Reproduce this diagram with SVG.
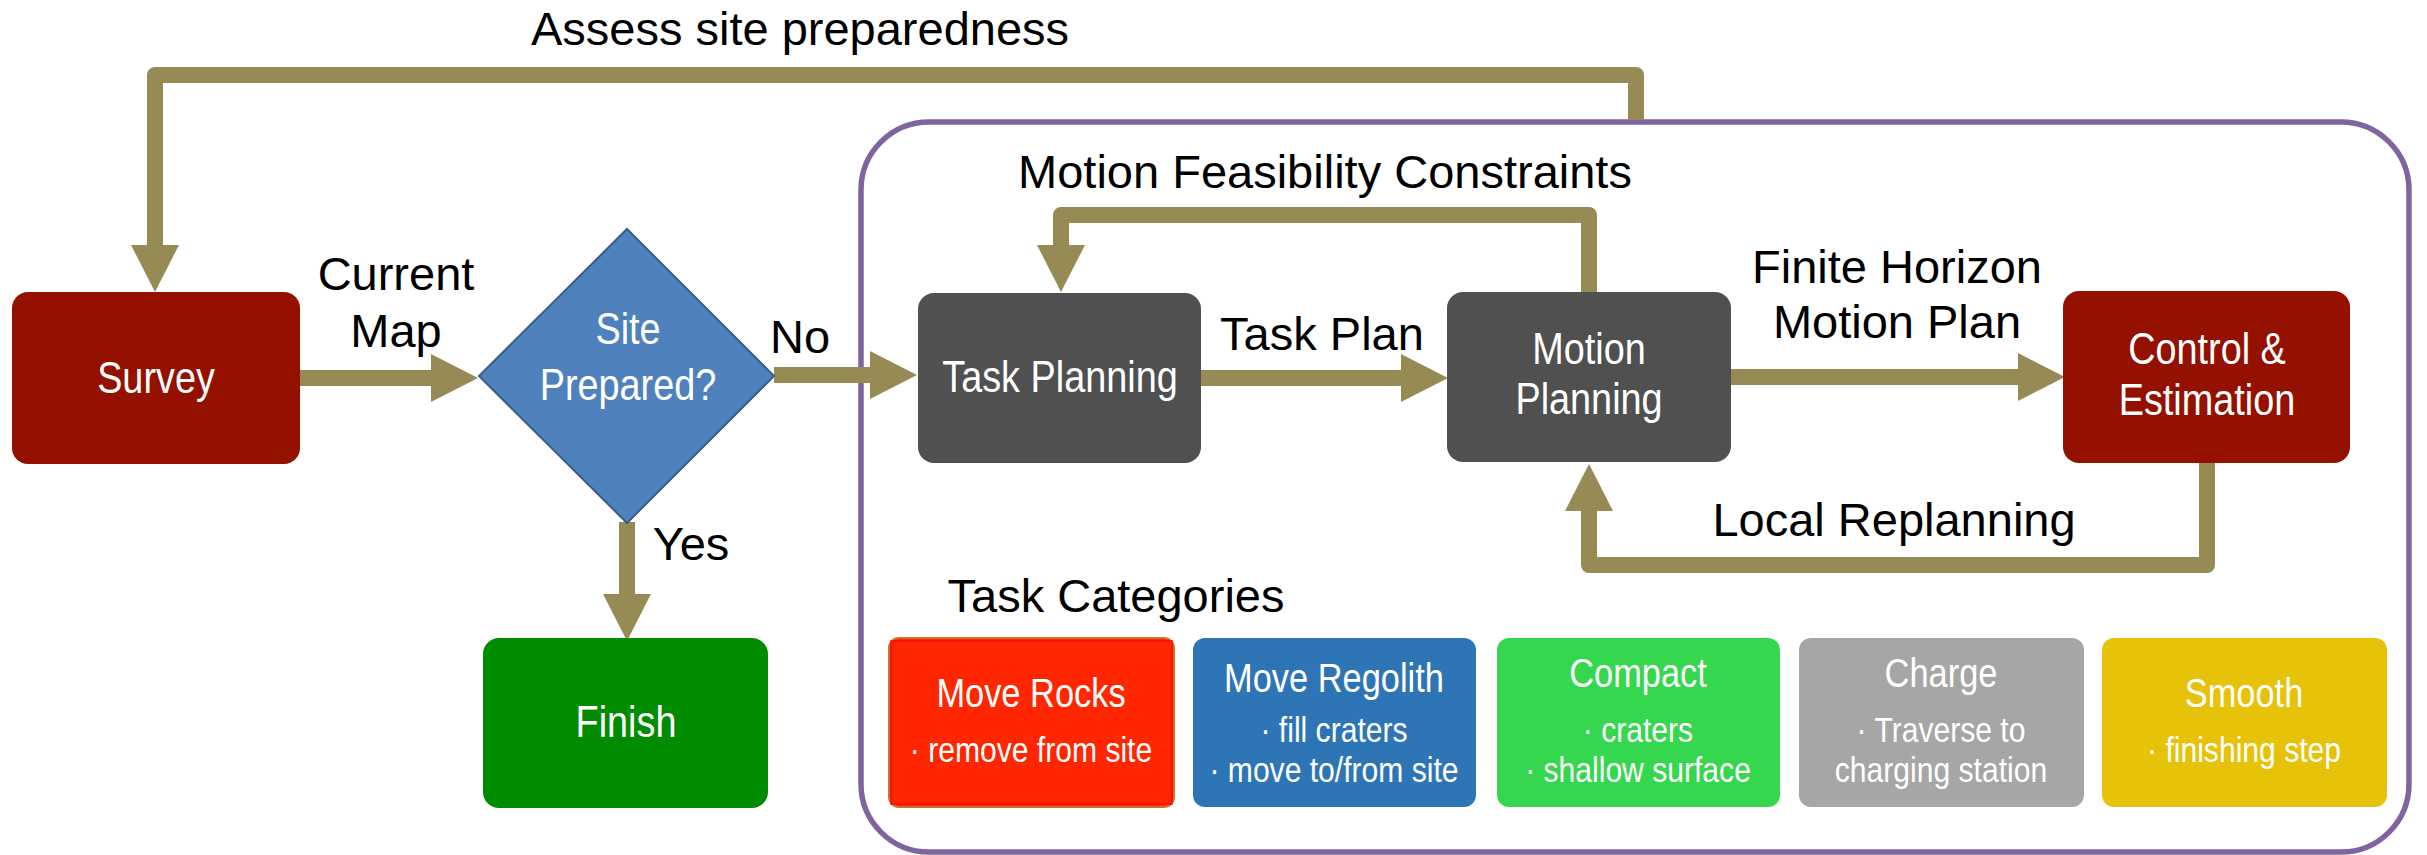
<svg xmlns="http://www.w3.org/2000/svg" width="2427" height="855" viewBox="0 0 2427 855">
  <style>
    .lbl { font-family: "Liberation Sans", Arial, sans-serif; font-size: 47px; fill: #000; text-anchor: middle; }
    .nt { font-family: "Liberation Sans", Arial, sans-serif; font-size: 44px; fill: #fff; text-anchor: middle; }
    .ct { font-family: "Liberation Sans", Arial, sans-serif; font-size: 40px; fill: #fff; text-anchor: middle; }
    .cs { font-family: "Liberation Sans", Arial, sans-serif; font-size: 35px; fill: #fff; text-anchor: middle; }
    .conn { fill: none; stroke: #968b55; stroke-width: 16; stroke-linejoin: round; marker-end: url(#head); }
    .red { fill: #941100; }
    .gray { fill: #505050; }
  </style>
  <defs>
    <marker id="head" markerUnits="userSpaceOnUse" markerWidth="48" markerHeight="48" viewBox="0 0 48 48" refX="0" refY="24" orient="auto">
      <path d="M0,0 L47,24 L0,48 Z" fill="#968b55"/>
    </marker>
  </defs>

  <rect width="2427" height="855" fill="#fff"/>

  <!-- planning container -->
  <g id="planner-frame">
    <rect x="861" y="122" width="1548" height="730" rx="68" ry="68" fill="none" stroke="#8064a2" stroke-width="5.5"/>
  </g>

  <!-- connectors -->
  <g id="connectors">
    <path class="conn" d="M1636,120 V75 H155 V245"/>
    <path class="conn" d="M300,378 H431"/>
    <path class="conn" d="M774,375 H870"/>
    <path class="conn" d="M1201,378 H1401"/>
    <path class="conn" d="M1731,377 H2018"/>
    <path class="conn" d="M1589,292 V215 H1061 V245"/>
    <path class="conn" d="M2207,463 V565 H1589 V511"/>
    <path class="conn" d="M627,522 V594"/>
  </g>

  <!-- connector labels -->
  <g id="labels">
    <text class="lbl" x="800" y="45">Assess site preparedness</text>
    <text class="lbl" x="396" y="290">Current</text>
    <text class="lbl" x="396" y="347">Map</text>
    <text class="lbl" x="800" y="353">No</text>
    <text class="lbl" x="691" y="560">Yes</text>
    <text class="lbl" x="1322" y="350">Task Plan</text>
    <text class="lbl" x="1325" y="188">Motion Feasibility Constraints</text>
    <text class="lbl" x="1897" y="283">Finite Horizon</text>
    <text class="lbl" x="1897" y="338">Motion Plan</text>
    <text class="lbl" x="1894" y="536">Local Replanning</text>
    <text class="lbl" x="1116" y="612">Task Categories</text>
  </g>

  <g id="survey">
    <rect class="red" x="12" y="292" width="288" height="172" rx="16"/>
    <text class="nt" transform="translate(156,393) scale(0.86,1)">Survey</text>
  </g>

  <g id="site-prepared">
    <polygon points="627,229 774,376 627,523 479,376" fill="#4f81bd" stroke="#385d8a" stroke-width="2"/>
    <text class="nt" transform="translate(628,344) scale(0.86,1)">Site</text>
    <text class="nt" transform="translate(628,400) scale(0.86,1)">Prepared?</text>
  </g>

  <g id="finish">
    <rect x="483" y="638" width="285" height="170" rx="16" fill="#008c00"/>
    <text class="nt" transform="translate(626,737) scale(0.86,1)">Finish</text>
  </g>

  <g id="task-planning">
    <rect class="gray" x="918" y="293" width="283" height="170" rx="16"/>
    <text class="nt" transform="translate(1060,392) scale(0.86,1)">Task Planning</text>
  </g>

  <g id="motion-planning">
    <rect class="gray" x="1447" y="292" width="284" height="170" rx="16"/>
    <text class="nt" transform="translate(1589,364) scale(0.86,1)">Motion</text>
    <text class="nt" transform="translate(1589,414) scale(0.86,1)">Planning</text>
  </g>

  <g id="control-estimation">
    <rect class="red" x="2063" y="291" width="287" height="172" rx="16"/>
    <text class="nt" transform="translate(2207,364) scale(0.86,1)">Control &amp;</text>
    <text class="nt" transform="translate(2207,415) scale(0.86,1)">Estimation</text>
  </g>

  <g id="move-rocks">
    <rect x="889" y="638" width="285" height="169" rx="10" fill="#ff2600" stroke="#c8732e" stroke-width="2"/>
    <rect x="891" y="641" width="281" height="163" fill="#ff2600" stroke="#ff0a00" stroke-width="1.5"/>
    <text class="ct" transform="translate(1031,707) scale(0.86,1)">Move Rocks</text>
    <text class="cs" transform="translate(1031,762) scale(0.86,1)">· remove from site</text>
  </g>

  <g id="move-regolith">
    <rect x="1193" y="638" width="283" height="169" rx="12" fill="#2e75b6"/>
    <text class="ct" transform="translate(1334,692) scale(0.86,1)">Move Regolith</text>
    <text class="cs" transform="translate(1334,742) scale(0.86,1)">· fill craters</text>
    <text class="cs" transform="translate(1334,782) scale(0.86,1)">· move to/from site</text>
  </g>

  <g id="compact">
    <rect x="1497" y="638" width="283" height="169" rx="12" fill="#34d74e"/>
    <text class="ct" transform="translate(1638,687) scale(0.86,1)">Compact</text>
    <text class="cs" transform="translate(1638,742) scale(0.86,1)">· craters</text>
    <text class="cs" transform="translate(1638,782) scale(0.86,1)">· shallow surface</text>
  </g>

  <g id="charge">
    <rect x="1799" y="638" width="285" height="169" rx="12" fill="#a6a6a6"/>
    <text class="ct" transform="translate(1941,687) scale(0.86,1)">Charge</text>
    <text class="cs" transform="translate(1941,742) scale(0.86,1)">· Traverse to</text>
    <text class="cs" transform="translate(1941,782) scale(0.86,1)">charging station</text>
  </g>

  <g id="smooth">
    <rect x="2102" y="638" width="285" height="169" rx="12" fill="#e6c208"/>
    <text class="ct" transform="translate(2244,707) scale(0.86,1)">Smooth</text>
    <text class="cs" transform="translate(2244,762) scale(0.86,1)">· finishing step</text>
  </g>
</svg>
